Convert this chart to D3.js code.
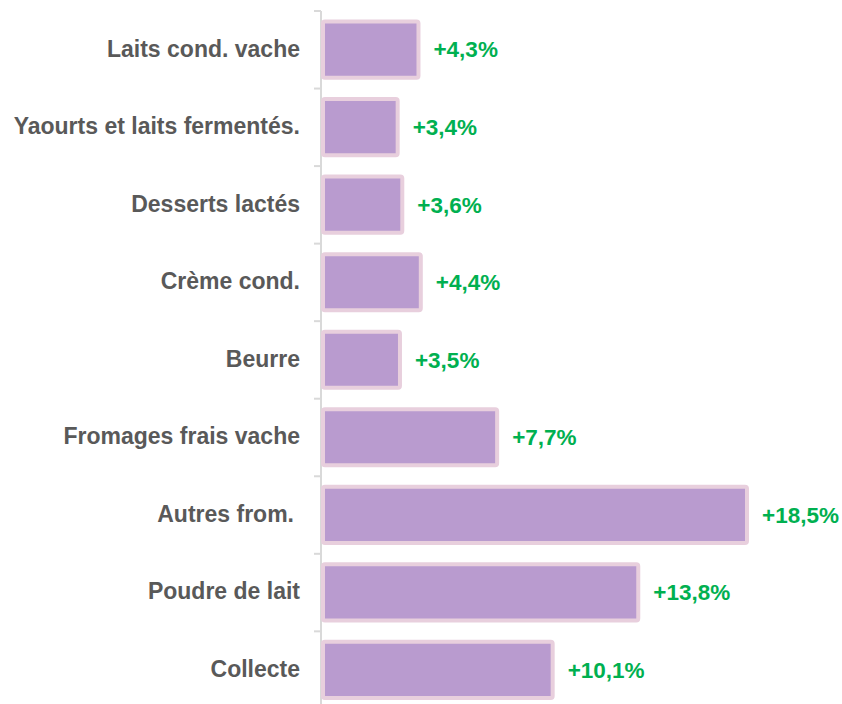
<!DOCTYPE html>
<html><head><meta charset="utf-8">
<script src="https://cdn.jsdelivr.net/npm/d3@7"></script>
<style>body{margin:0;background:#fff}</style>
</head><body><svg id="c" width="842" height="704"></svg>
<script>
const categories = ["Laits cond. vache","Yaourts et laits fermentés.","Desserts lactés","Crème cond.","Beurre","Fromages frais vache","Autres from. ","Poudre de lait","Collecte"];
const values = [4.3,3.4,3.6,4.4,3.5,7.7,18.5,13.8,10.1];
const valueLabels = ["+4,3%","+3,4%","+3,6%","+4,4%","+3,5%","+7,7%","+18,5%","+13,8%","+10,1%"];

const svg = d3.select("#c");
const x0 = 321;
const x = d3.scaleLinear().domain([0, 18.5]).range([x0, 749]);
const y = d3.scaleBand().domain(categories).range([11, 708.5]).paddingInner(0.225).paddingOuter(0.11);
const step = y.step();
const font = "'Liberation Sans', Arial, sans-serif";

svg.append("line").attr("x1", x0).attr("x2", x0).attr("y1", 11).attr("y2", 704)
  .attr("stroke", "#d9d9d9").attr("stroke-width", 2);
categories.forEach((c, i) => {
  const ty = 11 + i * step;
  svg.append("line").attr("x1", x0 - 7).attr("x2", x0).attr("y1", ty).attr("y2", ty)
    .attr("stroke", "#d9d9d9").attr("stroke-width", 2);
});

const g = svg.append("g");
g.selectAll("rect").data(values).join("rect")
  .attr("x", x(0) + 2)
  .attr("y", (d, i) => y(categories[i]) + 2)
  .attr("width", d => x(d) - x(0) - 4)
  .attr("height", y.bandwidth() - 4)
  .attr("rx", 2)
  .attr("fill", "#b99bcf")
  .attr("stroke", "#e8cfdd")
  .attr("stroke-width", 4);

g.selectAll("text.v").data(values).join("text").attr("class", "v")
  .attr("x", d => x(d) + 13)
  .attr("y", (d, i) => y(categories[i]) + y.bandwidth() / 2)
  .attr("dy", "0.35em")
  .attr("font-family", font)
  .attr("font-weight", "bold").attr("font-size", 22.5)
  .attr("fill", "#00b050")
  .text((d, i) => valueLabels[i]);

g.selectAll("text.c").data(categories).join("text").attr("class", "c")
  .attr("x", d => d.endsWith(" ") ? 294 : 300)
  .attr("y", d => y(d) + y.bandwidth() / 2 - 1)
  .attr("dy", "0.35em")
  .attr("text-anchor", "end")
  .attr("font-family", font)
  .attr("font-weight", "bold").attr("font-size", 23)
  .attr("fill", "#595959")
  .text(d => d.trim());
</script></body></html>
